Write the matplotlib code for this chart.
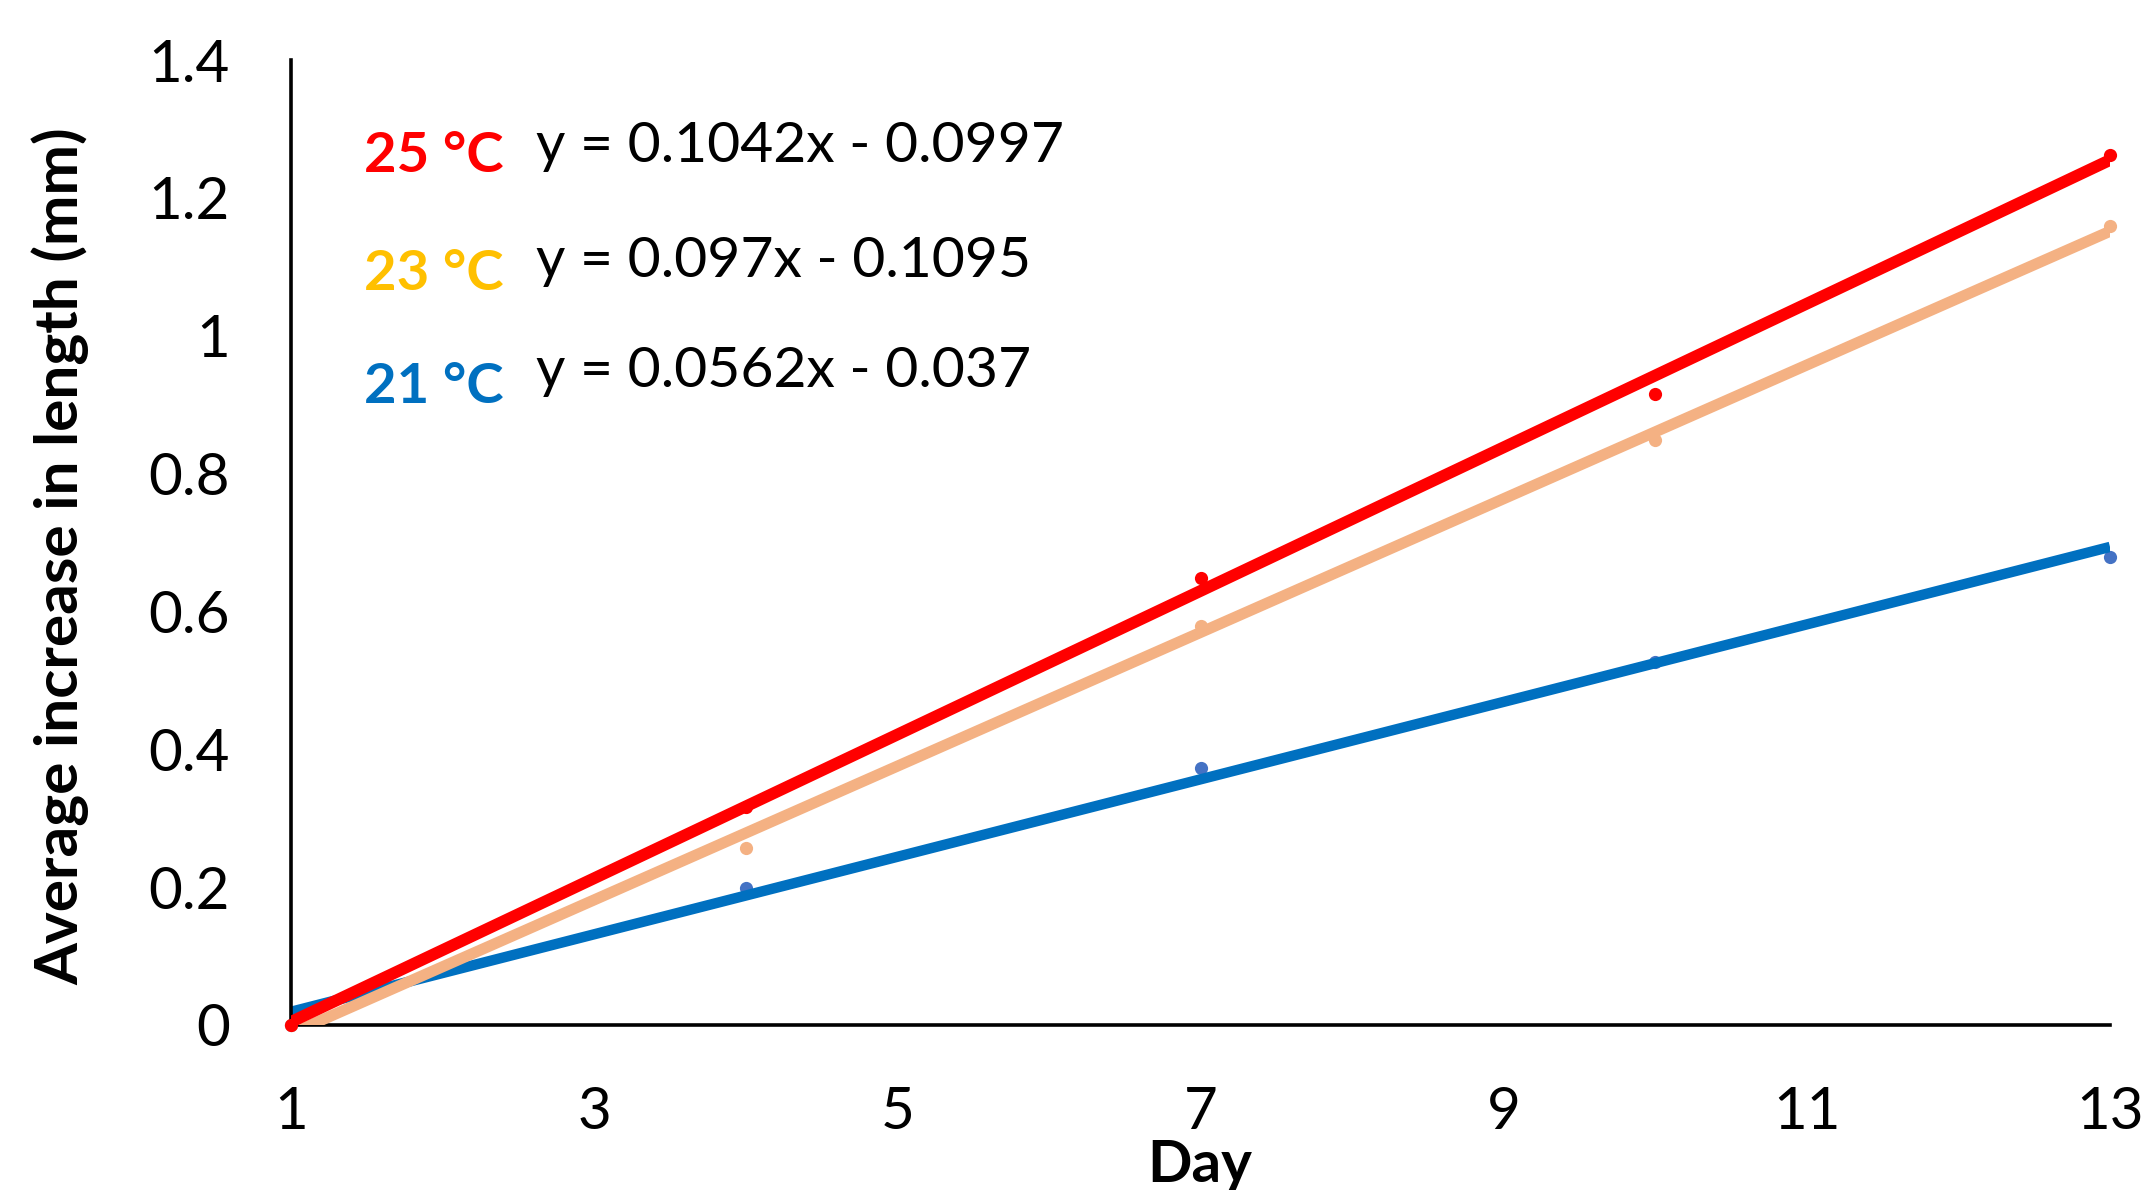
import numpy as np
import matplotlib
matplotlib.use('Agg')
import matplotlib.pyplot as plt

plt.rcParams['font.family'] = ['Lato', 'DejaVu Sans']

# measured points (day, average increase in length, mm)
days = [1, 4, 7, 10, 13]
len_25 = [0.0, 0.316, 0.649, 0.916, 1.262]
len_23 = [0.0, 0.257, 0.579, 0.848, 1.159]
len_21 = [0.0, 0.199, 0.373, 0.526, 0.679]

# linear trendline coefficients (slope, intercept)
fit_25 = (0.1042, -0.0997)
fit_23 = (0.097, -0.1095)
fit_21 = (0.0562, -0.037)

labels = ['25 °C', '23 °C', '21 °C']
label_colors = ['#FF0000', '#FFC000', '#0070C0']
line_colors = ['#FF0000', '#F4B183', '#0070C0']
marker_colors = ['#FF0000', '#F4B183', '#4472C4']
line_widths = [8.5, 8.0, 7.5]

xticks = [1, 3, 5, 7, 9, 11, 13]
yticks = [0, 0.2, 0.4, 0.6, 0.8, 1.0, 1.2, 1.4]
ytick_labels = ['0', '0.2', '0.4', '0.6', '0.8', '1', '1.2', '1.4']

W, H = 2144, 1190
fig = plt.figure(figsize=(W / 100, H / 100), dpi=100)
ax = fig.add_axes([291 / W, 1 - 1025 / H, (2110 - 291) / W, (1025 - 60) / H])

series = [len_25, len_23, len_21]
fits = [fit_25, fit_23, fit_21]
xs = np.array([days[0], days[-1]])
# draw lines back to front: blue, yellow, red
for i in [2, 1, 0]:
    m, b = fits[i]
    ax.plot(xs, m * xs + b, color=line_colors[i], lw=line_widths[i],
            solid_capstyle='butt', zorder=2 + (2 - i))
    ax.plot(days, series[i], 'o', color=marker_colors[i], ms=9.5,
            mec='none', clip_on=False, zorder=1 + (2 - i))

ax.set_xlim(1, 13)
ax.set_ylim(0, 1.4)
ax.set_xticks(xticks)
ax.set_yticks(yticks)
ax.set_yticklabels(ytick_labels)
ax.tick_params(length=0, labelsize=42)
ax.tick_params(axis='y', pad=44)
ax.tick_params(axis='x', pad=44)
for s in ['top', 'right']:
    ax.spines[s].set_visible(False)
for s in ['left', 'bottom']:
    ax.spines[s].set_linewidth(2.6)
    ax.spines[s].set_color('black')

# temperature labels and trendline equations
lab_y = [1.2375, 1.066, 0.902]
eq_y = [1.252, 1.085, 0.925]
for i in range(3):
    m, b = fits[i]
    eq = f'y = {m:g}x - {abs(b):g}'
    ax.text(1.48, lab_y[i], labels[i], color=label_colors[i], fontsize=40.5,
            fontweight='bold', va='baseline', ha='left')
    ax.text(2.616, eq_y[i], eq, color='black', fontsize=41,
            va='baseline', ha='left')

fig.text(60 / W, 1 - 556 / H, 'Average increase in length (mm)', rotation=90,
         fontsize=43.5, fontweight='bold', ha='center', va='center')
fig.text(1200 / W, (H - 1182) / H, 'Day', fontsize=42, fontweight='bold',
         ha='center', va='baseline')

fig.savefig('out.png', dpi=100)
